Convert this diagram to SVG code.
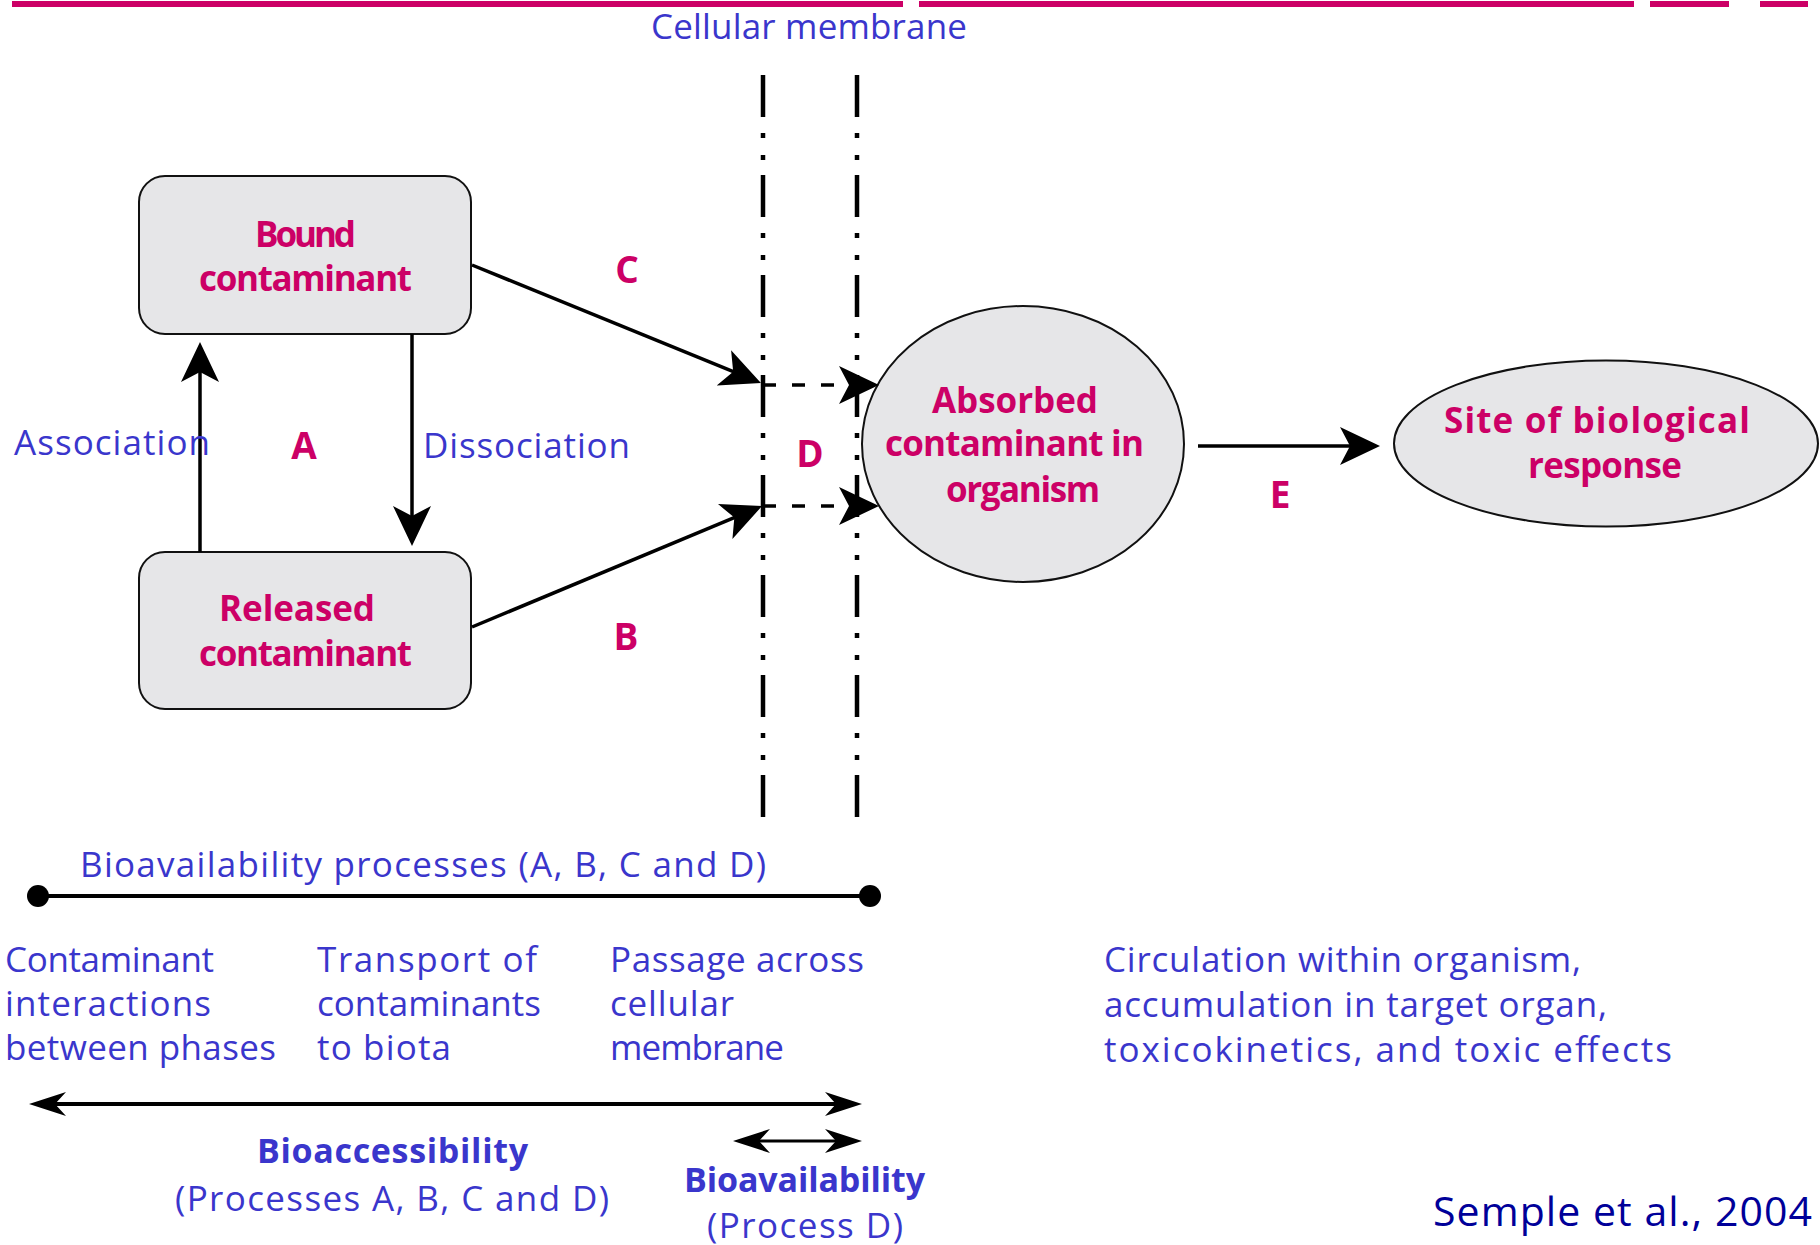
<svg xmlns="http://www.w3.org/2000/svg" width="1820" height="1245" viewBox="0 0 1820 1245">
<style>
.node{fill:#e6e6e8;stroke:#111;stroke-width:2}
.pk{font-family:"Open Sans",sans-serif;font-weight:bold;font-size:35px;fill:#cc0066}
.lt{font-family:"Open Sans",sans-serif;font-weight:bold;font-size:37px;fill:#cc0066}
.bl{font-family:"Open Sans",sans-serif;font-size:35px;fill:#3a36cc}
.blb{font-family:"Open Sans",sans-serif;font-weight:bold;font-size:34px;fill:#3a36cc}
.cn{fill:none;stroke:#000;stroke-width:3.5}
.dash{stroke-dasharray:13 16}
.mem{fill:none;stroke:#000;stroke-width:4.5;stroke-dasharray:42 16 5 17 5 15}
.bar{fill:#cc0066}
</style>
<defs>
<marker id="arr" viewBox="0 0 40 40" refX="30" refY="20" markerWidth="40" markerHeight="40" markerUnits="userSpaceOnUse" orient="auto">
<path d="M0,1 L40,20 L0,39 L10,20 Z" fill="#000"/>
</marker>
<marker id="arr2" viewBox="0 0 37 24" refX="27" refY="12" markerWidth="37" markerHeight="24" markerUnits="userSpaceOnUse" orient="auto-start-reverse">
<path d="M0,0 L37,12 L0,24 L11,12 Z" fill="#000"/>
</marker>
</defs>
<rect width="1820" height="1245" fill="#fff"/>
<g id="topbar">
<rect class="bar" x="12" y="1" width="891" height="6"/>
<rect class="bar" x="919" y="1" width="715" height="6"/>
<rect class="bar" x="1650" y="1" width="79" height="6"/>
<rect class="bar" x="1760" y="1" width="48" height="6"/>
</g>
<g id="membrane">
<line class="mem" x1="763" y1="75" x2="763" y2="817"/>
<line class="mem" x1="857" y1="75" x2="857" y2="817"/>
<text class="bl" x="651" y="39" textLength="316">Cellular membrane</text>
</g>
<g id="bound">
<rect class="node" x="139" y="176" width="332" height="158" rx="26"/>
<text class="pk" x="255" y="247" textLength="101">Bound</text>
<text class="pk" x="199" y="291" textLength="213">contaminant</text>
</g>
<g id="released">
<rect class="node" x="139" y="552" width="332" height="157" rx="26"/>
<text class="pk" x="219" y="621" textLength="156">Released</text>
<text class="pk" x="199" y="666" textLength="213">contaminant</text>
</g>
<g id="absorbed">
<ellipse class="node" cx="1023" cy="444" rx="161" ry="138"/>
<text class="pk" x="932" y="413" textLength="166">Absorbed</text>
<text class="pk" x="885" y="456" textLength="259">contaminant in</text>
<text class="pk" x="946" y="502" textLength="154">organism</text>
</g>
<g id="site">
<ellipse class="node" cx="1606" cy="443.5" rx="212" ry="83"/>
<text class="pk" x="1444" y="433" textLength="306">Site of biological</text>
<text class="pk" x="1528" y="478" textLength="154">response</text>
</g>
<g id="connectors">
<line class="cn" x1="200" y1="552" x2="200" y2="352" marker-end="url(#arr)"/>
<line class="cn" x1="412" y1="334" x2="412" y2="536" marker-end="url(#arr)"/>
<line class="cn" x1="472" y1="265" x2="751.7" y2="379.2" marker-end="url(#arr)"/>
<line class="cn" x1="472" y1="627" x2="752.8" y2="509.9" marker-end="url(#arr)"/>
<line class="cn dash" x1="763" y1="385" x2="869" y2="385" marker-end="url(#arr)"/>
<line class="cn dash" x1="763" y1="506" x2="869" y2="506" marker-end="url(#arr)"/>
<line class="cn" x1="1198" y1="446" x2="1370" y2="446" marker-end="url(#arr)"/>
<line x1="38" y1="896" x2="870" y2="896" stroke="#000" stroke-width="4"/>
<circle cx="38" cy="896" r="11" fill="#000"/>
<circle cx="870" cy="896" r="11" fill="#000"/>
<line x1="39" y1="1104" x2="852" y2="1104" stroke="#000" stroke-width="4" marker-start="url(#arr2)" marker-end="url(#arr2)"/>
<line x1="743" y1="1141" x2="852" y2="1141" stroke="#000" stroke-width="3" marker-start="url(#arr2)" marker-end="url(#arr2)"/>
</g>
<g id="labels">
<text class="lt" x="304" y="459" text-anchor="middle">A</text>
<text class="lt" x="627" y="283" text-anchor="middle">C</text>
<text class="lt" x="626" y="650" text-anchor="middle">B</text>
<text class="lt" x="810" y="467" text-anchor="middle">D</text>
<text class="lt" x="1280" y="508" text-anchor="middle">E</text>
<text class="bl" x="14" y="455" textLength="196">Association</text>
<text class="bl" x="423" y="458" textLength="207">Dissociation</text>
<text class="bl" x="80" y="877" textLength="686">Bioavailability processes (A, B, C and D)</text>
<text class="bl" x="5" y="972" textLength="209">Contaminant</text>
<text class="bl" x="5" y="1016" textLength="206">interactions</text>
<text class="bl" x="5" y="1060" textLength="271">between phases</text>
<text class="bl" x="317" y="972" textLength="220">Transport of</text>
<text class="bl" x="317" y="1016" textLength="224">contaminants</text>
<text class="bl" x="317" y="1060" textLength="134">to biota</text>
<text class="bl" x="610" y="972" textLength="254">Passage across</text>
<text class="bl" x="610" y="1016" textLength="124">cellular</text>
<text class="bl" x="610" y="1060" textLength="174">membrane</text>
<text class="bl" x="1104" y="972" textLength="477">Circulation within organism,</text>
<text class="bl" x="1104" y="1017" textLength="503">accumulation in target organ,</text>
<text class="bl" x="1104" y="1062" textLength="568">toxicokinetics, and toxic effects</text>
<text class="blb" x="257" y="1163" textLength="271">Bioaccessibility</text>
<text class="bl" x="175" y="1211" textLength="434">(Processes A, B, C and D)</text>
<text class="blb" x="684" y="1192" textLength="241">Bioavailability</text>
<text class="bl" x="707" y="1238" textLength="196">(Process D)</text>
<text x="1433" y="1226" textLength="379" style="font-family:'Open Sans',sans-serif;font-size:41px;fill:#000099">Semple et al., 2004</text>
</g>
</svg>
